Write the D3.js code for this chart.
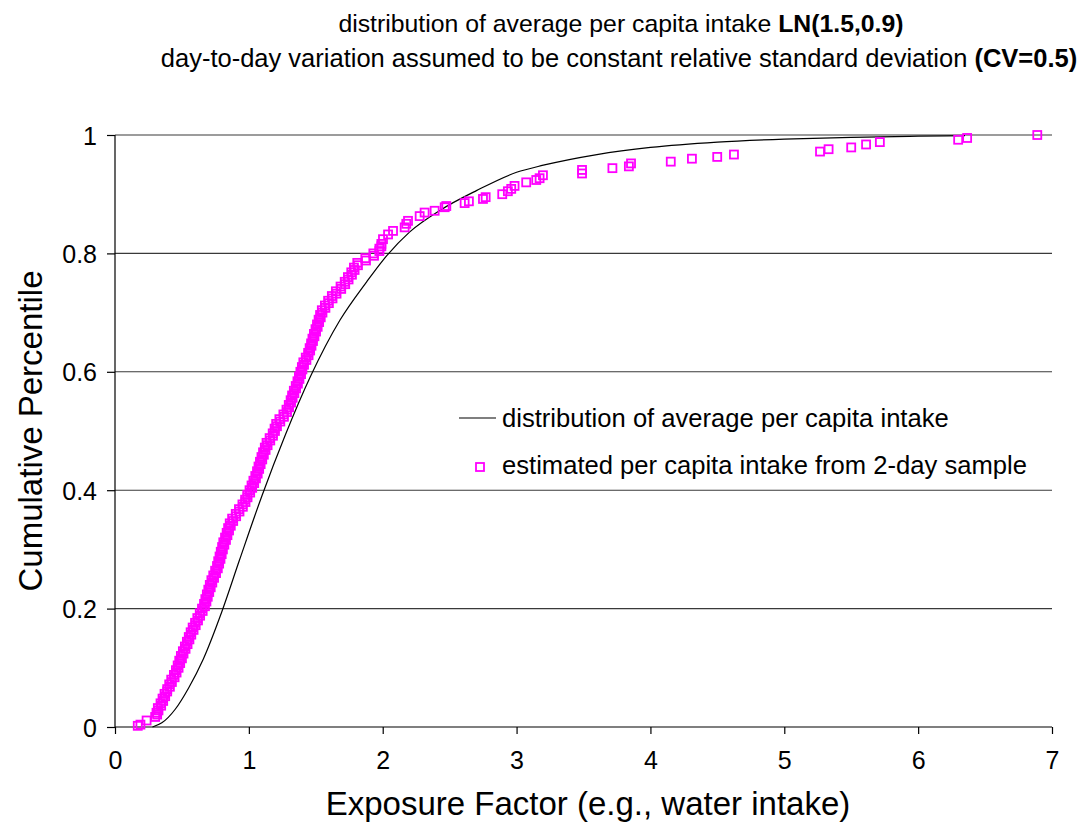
<!DOCTYPE html>
<html>
<head>
<meta charset="utf-8">
<script src="https://cdn.jsdelivr.net/npm/d3@7"></script>
<style>
  body { margin: 0; background: #fff; }
  text { font-family: Arial, "Liberation Sans", sans-serif; fill: #000; }
</style>
</head>
<body>
<div id="chart"></div>
<script>
// Chart data
var xTicks = [0, 1, 2, 3, 4, 5, 6, 7];
var yTicks = [0, 0.2, 0.4, 0.6, 0.8, 1];

// smooth curve: distribution of average per capita intake
var curveX = [0.28, 0.35, 0.45, 0.55, 0.66, 0.80, 0.93, 1.10, 1.27, 1.46, 1.68, 1.88, 2.0, 2.2, 2.43, 2.7, 3.0, 3.2, 3.6, 4.0, 4.5, 5.0, 5.5, 6.0, 6.35];
var curveP = [0.0, 0.007, 0.03, 0.066, 0.115, 0.196, 0.282, 0.392, 0.492, 0.592, 0.687, 0.752, 0.788, 0.836, 0.873, 0.906, 0.937, 0.949, 0.967, 0.979, 0.988, 0.993, 0.996, 0.998, 0.999];

// squares: estimated per capita intake from 2-day sample
var sampleX = [0.17, 0.19, 0.236, 0.30, 0.31, 0.32, 0.34, 0.355, 0.37, 0.39, 0.405, 0.42, 0.44, 0.455, 0.468, 0.48, 0.492, 0.507, 0.522, 0.537, 0.551, 0.565, 0.58, 0.598, 0.615, 0.633, 0.65, 0.665, 0.675, 0.686, 0.697, 0.708, 0.72, 0.734, 0.748, 0.762, 0.771, 0.781, 0.79, 0.80, 0.809, 0.822, 0.834, 0.845, 0.857, 0.875, 0.902, 0.926, 0.952, 0.972, 0.988, 1.005, 1.02, 1.034, 1.048, 1.061, 1.072, 1.083, 1.094, 1.106, 1.119, 1.132, 1.155, 1.178, 1.192, 1.204, 1.228, 1.258, 1.281, 1.298, 1.312, 1.323, 1.336, 1.35, 1.363, 1.374, 1.385, 1.396, 1.407, 1.425, 1.443, 1.454, 1.465, 1.475, 1.486, 1.498, 1.509, 1.521, 1.532, 1.545, 1.568, 1.592, 1.62, 1.65, 1.685, 1.716, 1.74, 1.765, 1.785, 1.81, 1.87, 1.93, 1.975, 1.99, 2.002, 2.04, 2.077, 2.164, 2.176, 2.189, 2.276, 2.313, 2.388, 2.463, 2.475, 2.612, 2.644, 2.749, 2.769, 2.893, 2.935, 2.96, 2.985, 3.072, 3.147, 3.172, 3.197, 3.489, 3.489, 3.716, 3.839, 3.855, 4.152, 4.31, 4.499, 4.624, 5.267, 5.331, 5.50, 5.611, 5.714, 6.299, 6.366, 6.89];
var sampleP = [0.002, 0.004, 0.011, 0.017, 0.024, 0.032, 0.04, 0.048, 0.056, 0.064, 0.072, 0.08, 0.088, 0.096, 0.104, 0.112, 0.12, 0.128, 0.136, 0.144, 0.152, 0.16, 0.168, 0.176, 0.184, 0.192, 0.2, 0.208, 0.216, 0.224, 0.232, 0.24, 0.248, 0.256, 0.264, 0.272, 0.28, 0.288, 0.296, 0.304, 0.312, 0.32, 0.328, 0.336, 0.344, 0.352, 0.36, 0.368, 0.376, 0.384, 0.392, 0.4, 0.408, 0.416, 0.424, 0.432, 0.44, 0.448, 0.456, 0.464, 0.472, 0.48, 0.488, 0.496, 0.504, 0.512, 0.52, 0.528, 0.536, 0.544, 0.552, 0.56, 0.568, 0.576, 0.584, 0.592, 0.6, 0.608, 0.616, 0.624, 0.632, 0.64, 0.648, 0.656, 0.664, 0.672, 0.68, 0.688, 0.696, 0.704, 0.712, 0.72, 0.728, 0.736, 0.744, 0.752, 0.76, 0.768, 0.776, 0.784, 0.792, 0.8, 0.808, 0.816, 0.824, 0.832, 0.838, 0.844, 0.85, 0.855, 0.863, 0.869, 0.872, 0.878, 0.88, 0.885, 0.888, 0.892, 0.895, 0.9, 0.905, 0.909, 0.914, 0.92, 0.924, 0.927, 0.932, 0.935, 0.941, 0.944, 0.947, 0.952, 0.955, 0.96, 0.963, 0.967, 0.972, 0.976, 0.979, 0.984, 0.988, 0.992, 0.995, 1.0];

// more squares of the same sample, read along the right side of the dense band
var bandX = [0.315, 0.325, 0.345, 0.36, 0.375, 0.39, 0.41, 0.425, 0.445, 0.46, 0.475, 0.487, 0.5, 0.512, 0.527, 0.542, 0.556, 0.57, 0.587, 0.603, 0.62, 0.636, 0.655, 0.672, 0.683, 0.693, 0.704, 0.715, 0.727, 0.74, 0.755, 0.768, 0.778, 0.788, 0.797, 0.806, 0.817, 0.829, 0.84, 0.852, 0.865, 0.883, 0.905, 0.93, 0.955, 0.975, 0.99, 1.01, 1.025, 1.04, 1.053, 1.066, 1.077, 1.088, 1.1, 1.112, 1.125, 1.14, 1.16, 1.18, 1.195, 1.21, 1.235, 1.262, 1.285, 1.3, 1.315, 1.327, 1.34, 1.353, 1.366, 1.378, 1.39, 1.4, 1.412, 1.43, 1.446, 1.458, 1.468, 1.479, 1.49, 1.502, 1.514, 1.525, 1.537, 1.55, 1.572, 1.598, 1.625, 1.655, 1.69, 1.72, 1.745, 1.77, 1.79, 1.815, 1.875, 1.935, 1.975, 1.99];
var bandP = [0.021, 0.028, 0.036, 0.044, 0.052, 0.06, 0.068, 0.076, 0.084, 0.092, 0.1, 0.108, 0.116, 0.124, 0.132, 0.14, 0.148, 0.156, 0.164, 0.172, 0.18, 0.188, 0.196, 0.204, 0.212, 0.22, 0.228, 0.236, 0.244, 0.252, 0.26, 0.268, 0.276, 0.284, 0.292, 0.3, 0.308, 0.316, 0.324, 0.332, 0.34, 0.348, 0.356, 0.364, 0.372, 0.38, 0.388, 0.396, 0.404, 0.412, 0.42, 0.428, 0.436, 0.444, 0.452, 0.46, 0.468, 0.476, 0.484, 0.492, 0.5, 0.508, 0.516, 0.524, 0.532, 0.54, 0.548, 0.556, 0.564, 0.572, 0.58, 0.588, 0.596, 0.604, 0.612, 0.62, 0.628, 0.636, 0.644, 0.652, 0.66, 0.668, 0.676, 0.684, 0.692, 0.7, 0.708, 0.716, 0.724, 0.732, 0.74, 0.748, 0.756, 0.764, 0.772, 0.78, 0.788, 0.796, 0.804, 0.812];

var legendLabels = ["distribution of average per capita intake", "estimated per capita intake from 2-day sample"];

// SVG area
var svgWidth = 1082;
var svgHeight = 826;

var margin = {
  top: 135,
  right: 30,
  bottom: 99,
  left: 115
};

var chartWidth = svgWidth - margin.left - margin.right;
var chartHeight = svgHeight - margin.top - margin.bottom;

var svg = d3.select("#chart")
  .append("svg")
  .attr("width", svgWidth)
  .attr("height", svgHeight);

var chartGroup = svg.append("g")
  .attr("transform", "translate(" + margin.left + "," + margin.top + ")");

var xScale = d3.scaleLinear().domain([0, 7]).range([0, chartWidth]);
var yScale = d3.scaleLinear().domain([0, 1]).range([chartHeight, 0]);

// horizontal gridlines
chartGroup.append("g")
  .selectAll("line")
  .data(yTicks.filter(function(d) { return d > 0; }))
  .enter()
  .append("line")
  .attr("x1", 0)
  .attr("x2", chartWidth)
  .attr("y1", function(d) { return yScale(d); })
  .attr("y2", function(d) { return yScale(d); })
  .attr("stroke", "#3a3a3a")
  .attr("stroke-width", 1.1);

// axes
var leftAxis = d3.axisLeft(yScale).tickValues(yTicks).tickSize(8).tickPadding(10)
  .tickFormat(function(d) { return d; });
var bottomAxis = d3.axisBottom(xScale).tickValues(xTicks).tickSize(7).tickPadding(17)
  .tickFormat(d3.format("d"));

var yAxisG = chartGroup.append("g").call(leftAxis);
var xAxisG = chartGroup.append("g")
  .attr("transform", "translate(0," + chartHeight + ")")
  .call(bottomAxis);

[yAxisG, xAxisG].forEach(function(g) {
  g.select(".domain").attr("stroke", "#000").attr("stroke-width", 1.2);
  g.selectAll(".tick line").attr("stroke", "#000").attr("stroke-width", 1.2);
  g.selectAll(".tick text")
    .attr("font-size", "25px")
    .attr("font-family", "Arial, 'Liberation Sans', sans-serif")
    .attr("fill", "#000");
});
yAxisG.select(".domain").attr("d", "M0,0V" + chartHeight);
xAxisG.select(".domain").attr("d", "M0,0H" + chartWidth);
yAxisG.selectAll(".tick text").attr("dy", "0.36em");

// distribution curve
var curveData = curveX.map(function(x, i) { return {x: x, p: curveP[i]}; });
var line = d3.line()
  .x(function(d) { return xScale(d.x); })
  .y(function(d) { return yScale(d.p); })
  .curve(d3.curveMonotoneX);

chartGroup.append("path")
  .datum(curveData)
  .attr("d", line)
  .attr("fill", "none")
  .attr("stroke", "#000")
  .attr("stroke-width", 1.2);

// sample squares
var sampleData = sampleX.map(function(x, i) { return {x: x, p: sampleP[i]}; })
  .concat(bandX.map(function(x, i) { return {x: x, p: bandP[i]}; }));
var sq = 8;
chartGroup.selectAll(".sample")
  .data(sampleData)
  .enter()
  .append("rect")
  .attr("class", "sample")
  .attr("x", function(d) { return xScale(d.x) - sq / 2; })
  .attr("y", function(d) { return yScale(d.p) - sq / 2; })
  .attr("width", sq)
  .attr("height", sq)
  .attr("fill", "none")
  .attr("stroke", "#ff00ff")
  .attr("stroke-width", 1.8);

// legend
var legend = svg.append("g");
legend.append("line")
  .attr("x1", 459).attr("x2", 496)
  .attr("y1", 418).attr("y2", 418)
  .attr("stroke", "#000").attr("stroke-width", 1.2);
legend.append("rect")
  .attr("x", 476).attr("y", 463)
  .attr("width", 8).attr("height", 8)
  .attr("fill", "none").attr("stroke", "#ff00ff").attr("stroke-width", 1.8);
legend.selectAll(".legendText")
  .data(legendLabels)
  .enter()
  .append("text")
  .attr("x", 502)
  .attr("y", function(d, i) { return 427 + i * 47; })
  .attr("font-size", "25.6px")
  .text(function(d) { return d; });

// titles
var title1 = svg.append("text")
  .attr("x", 621).attr("y", 32)
  .attr("text-anchor", "middle")
  .attr("font-size", "24.8px");
title1.append("tspan").text("distribution of average per capita intake ");
title1.append("tspan").attr("font-weight", "bold").text("LN(1.5,0.9)");

var title2 = svg.append("text")
  .attr("x", 619).attr("y", 67)
  .attr("text-anchor", "middle")
  .attr("font-size", "25.5px");
title2.append("tspan").text("day-to-day variation assumed to be constant relative standard deviation ");
title2.append("tspan").attr("font-weight", "bold").text("(CV=0.5)");

// axis titles
svg.append("text")
  .attr("transform", "translate(42," + (margin.top + chartHeight / 2) + ") rotate(-90)")
  .attr("text-anchor", "middle")
  .attr("font-size", "33px")
  .text("Cumulative Percentile");

svg.append("text")
  .attr("x", 588)
  .attr("y", 815)
  .attr("text-anchor", "middle")
  .attr("font-size", "33px")
  .text("Exposure Factor (e.g., water intake)");
</script>
</body>
</html>
